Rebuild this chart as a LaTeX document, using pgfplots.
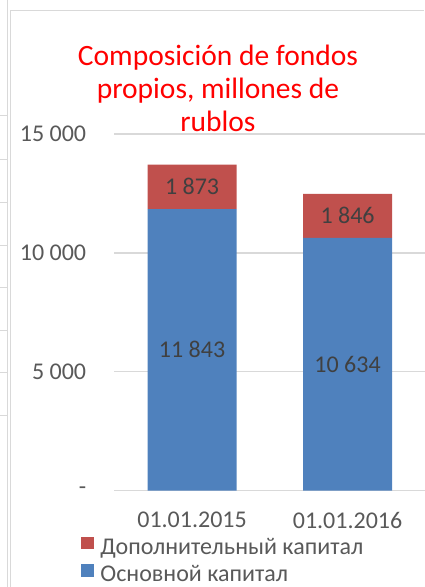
\documentclass[border=0pt]{standalone}
\usepackage{pgfplots}
\pgfplotsset{compat=1.18}
\usepackage{fontspec}
\setmainfont{Carlito}

\definecolor{osnBlue}{HTML}{4F81BD}
\definecolor{dopRed}{HTML}{C0504D}
\definecolor{gridGray}{HTML}{D9D9D9}
\definecolor{tickGray}{HTML}{595959}
\definecolor{lblGray}{HTML}{404040}

\begin{document}
\begin{tikzpicture}
\useasboundingbox (0,0) rectangle (424pt,587pt);

% chart frame and the edge of the neighbouring chart
\draw[gridGray, line width=1.2pt] (10.5pt,0) -- (10.5pt,576.5pt) -- (424pt,576.5pt);
\draw[gridGray, line width=1pt] (7.3pt,0) -- (7.3pt,587pt);
\foreach \yy in {116,160,203,246,288,331,373,416}
  \draw[gridGray, line width=1pt] (0,{(587-\yy)*1pt}) -- (7.3pt,{(587-\yy)*1pt});

\begin{axis}[
    at={(114.3pt,96.4pt)}, anchor=south west,
    scale only axis,
    width=311pt, height=356.6pt,
    ybar stacked, bar width=89pt,
    xmin=-0.5, xmax=1.5,
    ymin=0, ymax=15000,
    xtick={0,1},
    xticklabels={01.01.2015, 01.01.2016},
    ytick={0,5000,10000,15000},
    yticklabels={-, 5 000, 10 000, 15 000},
    scaled y ticks=false,
    axis line style={draw=none},
    major tick length=0pt,
    ymajorgrids,
    grid style={gridGray, line width=1.3pt},
    /pgf/number format/assume math mode=true,
    tick label style={font=\fontsize{24}{28}\selectfont, text=tickGray},
    yticklabel style={anchor=east, inner sep=0pt, xshift=-28pt},
    xticklabel style={anchor=north, inner sep=0pt, yshift=-21pt},
    point meta=explicit,
    nodes near coords={\pgfmathprintnumber[1000 sep={\ }]{\pgfplotspointmeta}},
    every node near coord/.append style={font=\fontsize{24}{28}\selectfont,
        text=lblGray, anchor=center},
    legend style={at={(-0.108,-0.129)}, anchor=north west, draw=none, fill=none,
        inner sep=0pt, font=\fontsize{24}{28}\selectfont, text=tickGray,
        nodes={inner sep=0pt, text height=17pt, text depth=7pt},
        row sep=3pt,
        /tikz/every odd column/.append style={column sep=6pt}},
    legend cell align=left,
    reverse legend,
    legend image code/.code={\fill[#1] (0pt,0pt) rectangle (13.5pt,12.5pt);},
]
\addplot[fill=osnBlue, draw=none] coordinates {(0,11843) [11843] (1,10634) [10634]};
\addlegendentry{Основной капитал}
\addplot[fill=dopRed, draw=none] coordinates {(0,1873) [1873] (1,1846) [1846]};
\addlegendentry{Дополнительный капитал}
\end{axis}

\node[text=red, font=\fontsize{29.5}{33}\selectfont, align=center]
  at (218pt,499pt) {Composición de fondos\\propios, millones de\\rublos};
\end{tikzpicture}
\end{document}
